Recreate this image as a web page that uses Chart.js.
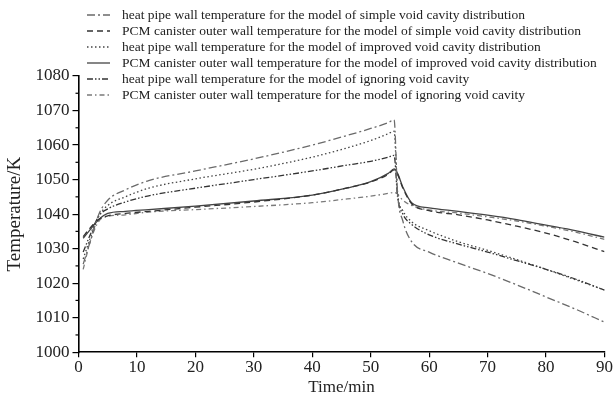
<!DOCTYPE html>
<html>
<head>
<meta charset="utf-8">
<script src="https://cdn.jsdelivr.net/npm/chart.js@4.4.1/dist/chart.umd.min.js"></script>
<style>
  html, body { margin: 0; padding: 0; background: #fff; }
  #wrap { width: 615px; height: 401px; position: relative; }
</style>
</head>
<body>
<div id="wrap"><canvas id="myChart"></canvas></div>
<script>
/** Data */
var times = [0.8, 2, 3.5, 5, 8, 12, 20, 30, 40, 46, 50, 53, 54, 54.6, 55.5, 57, 60, 65, 70, 75, 80, 85, 90];

var hpSimple   = [1025.5, 1032, 1040, 1044, 1047, 1049.7, 1052.5, 1056, 1060, 1062.8, 1064.8, 1066.5, 1067.3, 1046, 1038, 1032, 1029, 1025.8, 1022.8, 1019.5, 1016, 1012.5, 1008.7];
var pcmSimple  = [1033.5, 1036, 1038.5, 1039.5, 1040.2, 1040.8, 1042, 1043.5, 1045.5, 1047.6, 1049.3, 1051.5, 1052.8, 1051.5, 1047.5, 1043, 1041, 1039.8, 1038.3, 1036.5, 1034.5, 1032, 1029.1];
var hpImproved = [1027, 1033, 1039.5, 1042.5, 1045, 1047.5, 1050.2, 1053, 1056.5, 1059.2, 1061.3, 1063.3, 1064, 1046, 1041, 1037.8, 1035.2, 1032, 1029.5, 1026.8, 1024, 1021, 1018];
var pcmImproved = [1033, 1035.5, 1038.5, 1040.2, 1040.8, 1041.3, 1042.3, 1043.8, 1045.5, 1047.6, 1049.4, 1051.8, 1053.1, 1051.8, 1047.8, 1043.3, 1041.8, 1040.8, 1039.7, 1038.4, 1036.8, 1035.2, 1033.3];
var hpIgnoring = [1029, 1034, 1039.5, 1041.5, 1043.5, 1045.3, 1047.5, 1050, 1052.5, 1054.2, 1055.3, 1056.5, 1057, 1045, 1040, 1037, 1034, 1031.3, 1029, 1026.5, 1024, 1021.2, 1018];
var pcmIgnoring = [1024, 1032, 1038, 1039.3, 1039.8, 1040.6, 1041.3, 1042.2, 1043.3, 1044.4, 1045.2, 1046, 1046.3, 1045.8, 1044, 1042.5, 1041.2, 1040.3, 1039.2, 1038, 1036.5, 1034.8, 1032.7];

var labels = [
  'heat pipe wall temperature for the model of simple void cavity distribution',
  'PCM canister outer wall temperature for the model of simple void cavity distribution',
  'heat pipe wall temperature for the model of improved void cavity distribution',
  'PCM canister outer wall temperature for the model of improved void cavity distribution',
  'heat pipe wall temperature for the model of ignoring void cavity',
  'PCM canister outer wall temperature for the model of ignoring void cavity'
];

var xTicks = [0, 10, 20, 30, 40, 50, 60, 70, 80, 90];
var yTicks = [1000, 1010, 1020, 1030, 1040, 1050, 1060, 1070, 1080];

function pts(vals) {
  return times.map(function(t, i){ return {x: t, y: vals[i]}; });
}

function line(label, vals, color, dash) {
  return {
    label: label,
    data: pts(vals),
    borderColor: color,
    borderWidth: 1.3,
    borderDash: dash,
    pointRadius: 0,
    fill: false,
    cubicInterpolationMode: 'monotone'
  };
}

var SERIF = "'Liberation Serif', 'Times New Roman', serif";

/** Legend drawn by hand at the top left */
var topLegend = {
  id: 'topLegend',
  afterDraw: function(chart) {
    var ctx = chart.ctx;
    ctx.save();
    ctx.font = '13.5px ' + SERIF;
    ctx.textBaseline = 'middle';
    chart.data.datasets.forEach(function(ds, i){
      var y = 15 + i * 16;
      ctx.strokeStyle = ds.borderColor;
      ctx.lineWidth = 1.3;
      ctx.setLineDash(ds.borderDash || []);
      ctx.beginPath();
      ctx.moveTo(87, y);
      ctx.lineTo(110, y);
      ctx.stroke();
      ctx.setLineDash([]);
      ctx.fillStyle = '#222';
      ctx.fillText(ds.label, 122, y + 0.5);
    });
    ctx.restore();
  }
};

/** Short minor ticks on the y axis */
var minorTicks = {
  id: 'minorTicks',
  afterDraw: function(chart) {
    var ctx = chart.ctx, ys = chart.scales.y, left = chart.chartArea.left;
    ctx.save();
    ctx.strokeStyle = '#000';
    ctx.lineWidth = 1.2;
    for (var v = 1005; v < 1080; v += 10) {
      var py = ys.getPixelForValue(v);
      ctx.beginPath();
      ctx.moveTo(left - 3, py);
      ctx.lineTo(left, py);
      ctx.stroke();
    }
    ctx.restore();
  }
};

function plain(v) { return String(v); }

var ctx = document.getElementById('myChart').getContext('2d');
var myChart = new Chart(ctx, {
  type: 'line',
  data: {
    datasets: [
      line(labels[0], hpSimple, '#6a6a6a', [8, 3, 2, 3]),
      line(labels[1], pcmSimple, '#333333', [6, 4]),
      line(labels[2], hpImproved, '#444444', [1.5, 2.5]),
      line(labels[3], pcmImproved, '#444444', []),
      line(labels[4], hpIgnoring, '#333333', [6, 2, 1.5, 2, 1.5, 2]),
      line(labels[5], pcmIgnoring, '#7a7a7a', [5, 3, 1.5, 3])
    ]
  },
  options: {
    responsive: true,
    maintainAspectRatio: false,
    animation: false,
    layout: { padding: { top: 76, right: 10.5, left: 0, bottom: 3 } },
    plugins: {
      legend: { display: false },
      tooltip: { enabled: false }
    },
    scales: {
      x: {
        type: 'linear',
        min: 0,
        max: 90,
        afterBuildTicks: function(s){ s.ticks = xTicks.map(function(v){ return {value: v}; }); },
        ticks: { color: '#222', font: { family: SERIF, size: 17 }, padding: 0, maxRotation: 0, callback: plain },
        grid: { display: true, drawOnChartArea: false, drawTicks: true, tickLength: 5, color: '#000', lineWidth: 1.2 },
        border: { display: true, color: '#000', width: 1.6 },
        title: { display: true, text: 'Time/min', color: '#222', font: { family: SERIF, size: 17 }, padding: { top: 0, bottom: 0 } }
      },
      y: {
        min: 1000,
        max: 1080,
        afterBuildTicks: function(s){ s.ticks = yTicks.map(function(v){ return {value: v}; }); },
        afterFit: function(s){ s.width = 78.5; },
        ticks: { color: '#222', font: { family: SERIF, size: 17 }, padding: 3, callback: plain },
        grid: { display: true, drawOnChartArea: false, drawTicks: true, tickLength: 6, color: '#000', lineWidth: 1.2 },
        border: { display: true, color: '#000', width: 1.6 },
        title: { display: true, text: 'Temperature/K', color: '#222', font: { family: SERIF, size: 19 }, padding: { top: 4, bottom: 0 } }
      }
    }
  },
  plugins: [topLegend, minorTicks]
});
</script>
</body>
</html>
